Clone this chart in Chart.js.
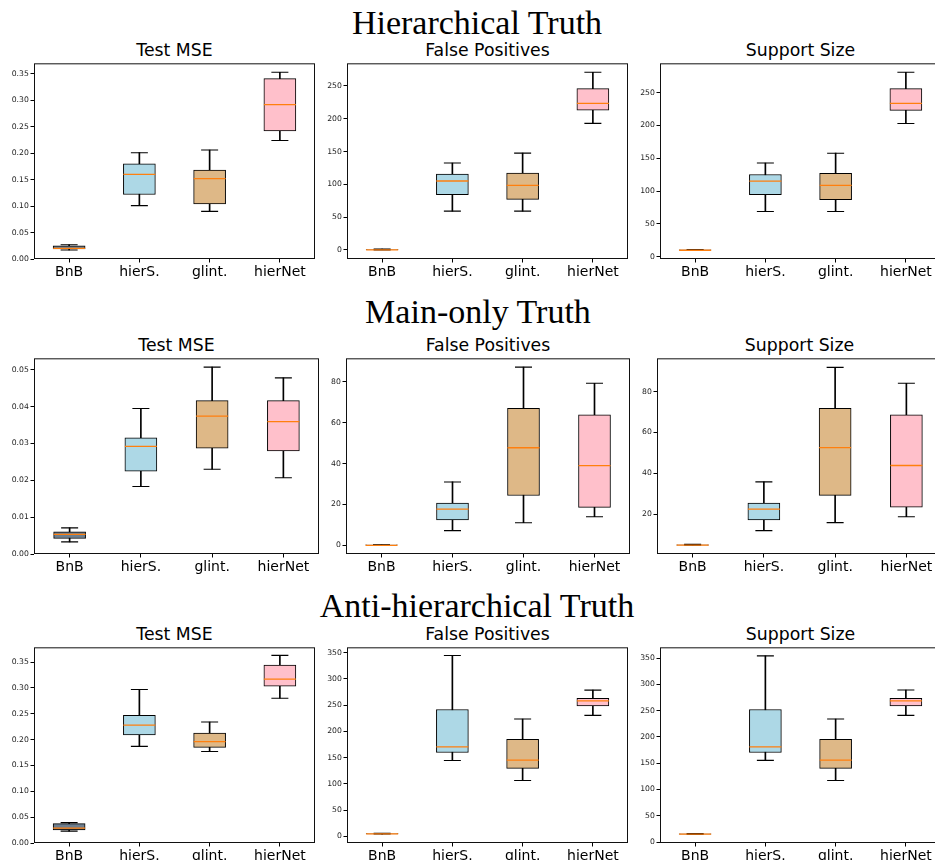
<!DOCTYPE html>
<html lang="en">
<head>
<meta charset="UTF-8">
<title>Hierarchical, Main-only and Anti-hierarchical Truth</title>
<script src="https://cdn.jsdelivr.net/npm/chart.js"></script>
<style>
  * { margin: 0; padding: 0; box-sizing: border-box; }
  body {
    width: 935px; height: 860px; overflow: hidden;
    background: #fff; position: relative;
    font-family: 'DejaVu Sans', sans-serif; color: #000;
  }
  .row-title {
    position: absolute; width: 600px; text-align: center;
    font-family: 'Liberation Serif', serif; font-size: 34px; line-height: 1;
  }
  .panel-title {
    position: absolute; width: 300px; text-align: center;
    font-size: 17.3px; line-height: 1;
  }
  canvas { position: absolute; }
</style>
</head>
<body>
<script>
  const methods = ['BnB', 'hierS.', 'glint.', 'hierNet'];
  const boxColors = ['#6e7f8f', '#add8e6', '#deb887', '#ffc0cb'];

  // per method: [low whisker, q1, median, q3, high whisker]
  const hierMse = [[0.017, 0.019, 0.020, 0.025, 0.027], [0.101, 0.122, 0.160, 0.180, 0.201],
                   [0.090, 0.104, 0.152, 0.168, 0.206], [0.224, 0.242, 0.292, 0.341, 0.353]];
  const hierFp = [[0, 0, 0, 0.5, 1], [59, 84, 105, 115.5, 132.5],
                  [59, 77, 98.4, 117, 147.6], [193, 213, 223.4, 246, 271]];
  const hierSupport = [[10, 10, 10, 10.5, 11], [69, 94.7, 115.2, 125.3, 142.8],
                       [69, 87.2, 108.7, 127.3, 157.8], [203, 223, 233.5, 256, 281]];

  const mainMse = [[0.0033, 0.0042, 0.0053, 0.0060, 0.0071], [0.0183, 0.0225, 0.0292, 0.0315, 0.0395],
                   [0.0230, 0.0287, 0.0374, 0.0416, 0.0507], [0.0207, 0.0280, 0.0359, 0.0416, 0.0478]];
  const mainFp = [[0, 0, 0, 0.2, 0.3], [7.2, 12.4, 17.7, 20.7, 31],
                  [11.1, 24.4, 47.7, 67, 87.1], [14, 18.6, 39, 63.8, 79.2]];
  const mainSupport = [[5, 5, 5, 5.2, 5.4], [12.1, 17.3, 22.6, 25.6, 35.9],
                       [16, 29.3, 52.6, 71.8, 91.8], [18.9, 23.5, 43.9, 68.6, 84]];

  const antiMse = [[0.0229, 0.0255, 0.0286, 0.0375, 0.0395], [0.187, 0.209, 0.228, 0.247, 0.297],
                   [0.177, 0.185, 0.196, 0.2125, 0.234], [0.280, 0.3035, 0.317, 0.344, 0.363]];
  const antiFp = [[4.5, 5, 5, 5.5, 6], [144.6, 159.7, 170.3, 241.7, 344.4],
                  [106.4, 129.6, 145.3, 184.7, 223.5], [230.4, 248.6, 258, 263, 278.6]];
  const antiSupport = [[14.5, 15, 15, 15.5, 16], [155.3, 170.3, 180.9, 252.3, 354.4],
                       [117.1, 140.2, 155.9, 195.3, 234.2], [241, 259.2, 268.6, 273.6, 289.3]];

  // tick labels
  const mseTicks = [0, 0.05, 0.10, 0.15, 0.20, 0.25, 0.30, 0.35];
  const mainMseTicks = [0, 0.01, 0.02, 0.03, 0.04, 0.05];
  const hierCountTicks = [0, 50, 100, 150, 200, 250];
  const mainFpTicks = [0, 20, 40, 60, 80];
  const mainSupportTicks = [20, 40, 60, 80];
  const antiCountTicks = [0, 50, 100, 150, 200, 250, 300, 350];

  const rowTitles = [
    { text: 'Hierarchical Truth', cx: 477, top: 6 },
    { text: 'Main-only Truth', cx: 478, top: 295 },
    { text: 'Anti-hierarchical Truth', cx: 477, top: 589 }
  ];

  // frame = [left, top, right, bottom] of the plot box in page pixels
  const panels = [
    { title: 'Test MSE', frame: [34, 61, 315, 259], range: [0, 0.37], ticks: mseTicks, dec: 2, data: hierMse },
    { title: 'False Positives', frame: [347, 61, 628, 259], range: [-14, 284.6], ticks: hierCountTicks, dec: 0, data: hierFp },
    { title: 'Support Size', frame: [660, 61, 941, 259], range: [-3.3, 294.6], ticks: hierCountTicks, dec: 0, data: hierSupport },
    { title: 'Test MSE', frame: [34, 356, 319, 554], range: [0, 0.0531], ticks: mainMseTicks, dec: 2, data: mainMse },
    { title: 'False Positives', frame: [346, 356, 630, 554], range: [-4.2, 91.4], ticks: mainFpTicks, dec: 0, data: mainFp },
    { title: 'Support Size', frame: [657, 356, 942, 554], range: [0.7, 96.2], ticks: mainSupportTicks, dec: 0, data: mainSupport },
    { title: 'Test MSE', frame: [34, 645, 315, 843], range: [0, 0.3786], ticks: mseTicks, dec: 2, data: antiMse },
    { title: 'False Positives', frame: [347, 645, 628, 843], range: [-12.5, 360], ticks: antiCountTicks, dec: 0, data: antiFp },
    { title: 'Support Size', frame: [660, 645, 941, 843], range: [-1.9, 370.6], ticks: antiCountTicks, dec: 0, data: antiSupport }
  ];

  const AXW = 36, PADT = 4, PADR = 4, AXH = 30;

  const framePlugin = {
    id: 'frame',
    afterDraw(chart) {
      const { ctx, chartArea: a } = chart;
      ctx.save();
      ctx.strokeStyle = '#111';
      ctx.lineWidth = 1;
      ctx.strokeRect(a.left + 0.5, a.top + 0.5, a.right - a.left - 1, a.bottom - a.top - 1);
      ctx.restore();
    }
  };

  rowTitles.forEach(r => {
    const d = document.createElement('div');
    d.className = 'row-title';
    d.textContent = r.text;
    d.style.left = (r.cx - 300) + 'px';
    d.style.top = r.top + 'px';
    document.body.appendChild(d);
  });

  function drawPanel(p) {
    const [l, t, r, b] = p.frame;
    const W = r - l + AXW + PADR, H = b - t + PADT + AXH;

    const ttl = document.createElement('div');
    ttl.className = 'panel-title';
    ttl.textContent = p.title;
    ttl.style.left = ((l + r) / 2 - 150) + 'px';
    ttl.style.top = (t - 4.8 - 14.6) + 'px';
    document.body.appendChild(ttl);

    const cv = document.createElement('canvas');
    cv.width = W; cv.height = H;
    cv.style.left = (l - AXW) + 'px';
    cv.style.top = (t - PADT) + 'px';
    cv.style.width = W + 'px';
    cv.style.height = H + 'px';
    document.body.appendChild(cv);

    new Chart(cv, {
      type: 'bar',
      data: {
        labels: methods,
        datasets: [
          {
            type: 'line', order: 0, data: p.data.map(d => d[2]),
            showLine: false, pointStyle: 'line', pointRadius: 16,
            pointBorderColor: '#ff7f0e', pointBorderWidth: 1.3
          },
          {
            type: 'line', order: 1, data: p.data.map(d => d[4]),
            showLine: false, pointStyle: 'line', pointRadius: 8.5,
            pointBorderColor: '#000', pointBorderWidth: 1.1
          },
          {
            type: 'line', order: 1, data: p.data.map(d => d[0]),
            showLine: false, pointStyle: 'line', pointRadius: 8.5,
            pointBorderColor: '#000', pointBorderWidth: 1.1
          },
          {
            order: 2, data: p.data.map(d => [d[1], d[3]]),
            backgroundColor: boxColors, borderColor: '#000', borderWidth: 1,
            borderSkipped: false, barThickness: 32, grouped: false
          },
          {
            order: 3, data: p.data.map(d => [d[0], d[4]]),
            backgroundColor: '#000', borderWidth: 0,
            barThickness: 1, grouped: false
          }
        ]
      },
      options: {
        responsive: false,
        animation: false,
        events: [],
        layout: { autoPadding: false, padding: { left: 0, top: PADT, right: PADR, bottom: 0 } },
        plugins: { legend: { display: false }, tooltip: { enabled: false } },
        scales: {
          x: {
            afterFit(s) { s.height = AXH; },
            border: { display: false },
            grid: { offset: false, drawOnChartArea: false, drawTicks: true, tickLength: 3.5, tickColor: '#000' },
            ticks: { autoSkip: false, maxRotation: 0, padding: 1.5, color: '#000',
                     font: { family: 'DejaVu Sans', size: 14 } }
          },
          y: {
            min: p.range[0], max: p.range[1],
            afterFit(s) { s.width = AXW; },
            afterBuildTicks(s) { s.ticks = p.ticks.map(v => ({ value: v })); },
            border: { display: false },
            grid: { drawOnChartArea: false, drawTicks: true, tickLength: 3.5, tickColor: '#000' },
            ticks: { padding: 1.7, color: '#222', font: { family: 'DejaVu Sans', size: 7.7 },
                     callback: v => Number(v).toFixed(p.dec) }
          }
        }
      },
      plugins: [framePlugin]
    });
  }

  panels.forEach(drawPanel);
</script>
</body>
</html>
